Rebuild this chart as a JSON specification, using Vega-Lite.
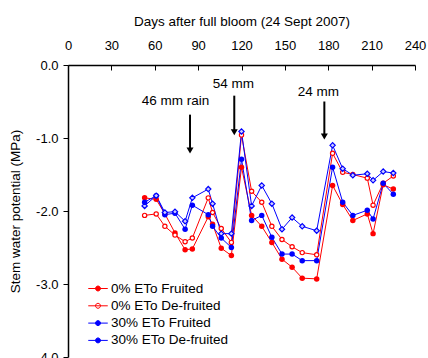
{
  "$schema": "https://vega.github.io/schema/vega-lite/v6.json",
  "width": 347,
  "height": 292,
  "autosize": {"type": "none"},
  "padding": {"left": 68, "top": 65, "right": 13, "bottom": 1},
  "background": "white",
  "config": {
    "view": {"stroke": null},
    "font": "Liberation Sans",
    "axis": {"grid": false, "domainColor": "#000", "tickColor": "#000", "labelColor": "#000", "titleColor": "#000", "labelFont": "Liberation Sans", "titleFont": "Liberation Sans", "labelFontSize": 13, "titleFontSize": 13.5, "titleFontWeight": "normal", "domainWidth": 1.5, "tickWidth": 1}
  },
  "datasets": {
    "obs": [
      {"s": "0% ETo Fruited", "d": 53, "v": -1.82}, {"s": "0% ETo Fruited", "d": 61, "v": -1.84}, {"s": "0% ETo Fruited", "d": 67, "v": -2.04}, {"s": "0% ETo Fruited", "d": 74, "v": -2.30}, {"s": "0% ETo Fruited", "d": 81, "v": -2.53}, {"s": "0% ETo Fruited", "d": 86, "v": -2.52}, {"s": "0% ETo Fruited", "d": 97, "v": -2.08}, {"s": "0% ETo Fruited", "d": 100, "v": -2.18}, {"s": "0% ETo Fruited", "d": 106, "v": -2.51}, {"s": "0% ETo Fruited", "d": 113, "v": -2.61}, {"s": "0% ETo Fruited", "d": 120, "v": -1.40}, {"s": "0% ETo Fruited", "d": 127, "v": -2.06}, {"s": "0% ETo Fruited", "d": 134, "v": -2.21}, {"s": "0% ETo Fruited", "d": 141, "v": -2.43}, {"s": "0% ETo Fruited", "d": 148, "v": -2.66}, {"s": "0% ETo Fruited", "d": 155, "v": -2.77}, {"s": "0% ETo Fruited", "d": 162, "v": -2.92}, {"s": "0% ETo Fruited", "d": 172, "v": -2.93}, {"s": "0% ETo Fruited", "d": 183, "v": -1.65}, {"s": "0% ETo Fruited", "d": 190, "v": -1.91}, {"s": "0% ETo Fruited", "d": 197, "v": -2.13}, {"s": "0% ETo Fruited", "d": 207, "v": -2.04}, {"s": "0% ETo Fruited", "d": 211, "v": -2.31}, {"s": "0% ETo Fruited", "d": 218, "v": -1.64}, {"s": "0% ETo Fruited", "d": 225, "v": -1.70},
      {"s": "0% ETo De-fruited", "d": 53, "v": -2.06}, {"s": "0% ETo De-fruited", "d": 61, "v": -2.04}, {"s": "0% ETo De-fruited", "d": 67, "v": -2.21}, {"s": "0% ETo De-fruited", "d": 74, "v": -2.33}, {"s": "0% ETo De-fruited", "d": 81, "v": -2.42}, {"s": "0% ETo De-fruited", "d": 86, "v": -2.37}, {"s": "0% ETo De-fruited", "d": 97, "v": -1.82}, {"s": "0% ETo De-fruited", "d": 100, "v": -2.02}, {"s": "0% ETo De-fruited", "d": 106, "v": -2.24}, {"s": "0% ETo De-fruited", "d": 113, "v": -2.43}, {"s": "0% ETo De-fruited", "d": 120, "v": -0.96}, {"s": "0% ETo De-fruited", "d": 127, "v": -1.73}, {"s": "0% ETo De-fruited", "d": 134, "v": -1.88}, {"s": "0% ETo De-fruited", "d": 141, "v": -2.21}, {"s": "0% ETo De-fruited", "d": 148, "v": -2.39}, {"s": "0% ETo De-fruited", "d": 155, "v": -2.49}, {"s": "0% ETo De-fruited", "d": 162, "v": -2.57}, {"s": "0% ETo De-fruited", "d": 172, "v": -2.60}, {"s": "0% ETo De-fruited", "d": 183, "v": -1.21}, {"s": "0% ETo De-fruited", "d": 190, "v": -1.47}, {"s": "0% ETo De-fruited", "d": 197, "v": -1.50}, {"s": "0% ETo De-fruited", "d": 207, "v": -1.55}, {"s": "0% ETo De-fruited", "d": 211, "v": -1.92}, {"s": "0% ETo De-fruited", "d": 218, "v": -1.62}, {"s": "0% ETo De-fruited", "d": 225, "v": -1.52},
      {"s": "30% ETo Fruited", "d": 53, "v": -1.88}, {"s": "30% ETo Fruited", "d": 61, "v": -1.79}, {"s": "30% ETo Fruited", "d": 67, "v": -2.05}, {"s": "30% ETo Fruited", "d": 74, "v": -2.03}, {"s": "30% ETo Fruited", "d": 81, "v": -2.25}, {"s": "30% ETo Fruited", "d": 86, "v": -1.92}, {"s": "30% ETo Fruited", "d": 97, "v": -2.05}, {"s": "30% ETo Fruited", "d": 100, "v": -2.21}, {"s": "30% ETo Fruited", "d": 106, "v": -2.37}, {"s": "30% ETo Fruited", "d": 113, "v": -2.50}, {"s": "30% ETo Fruited", "d": 120, "v": -1.29}, {"s": "30% ETo Fruited", "d": 127, "v": -2.13}, {"s": "30% ETo Fruited", "d": 134, "v": -2.06}, {"s": "30% ETo Fruited", "d": 141, "v": -2.36}, {"s": "30% ETo Fruited", "d": 148, "v": -2.59}, {"s": "30% ETo Fruited", "d": 155, "v": -2.59}, {"s": "30% ETo Fruited", "d": 162, "v": -2.68}, {"s": "30% ETo Fruited", "d": 172, "v": -2.68}, {"s": "30% ETo Fruited", "d": 183, "v": -1.40}, {"s": "30% ETo Fruited", "d": 190, "v": -1.88}, {"s": "30% ETo Fruited", "d": 197, "v": -2.06}, {"s": "30% ETo Fruited", "d": 207, "v": -1.99}, {"s": "30% ETo Fruited", "d": 211, "v": -2.11}, {"s": "30% ETo Fruited", "d": 218, "v": -1.62}, {"s": "30% ETo Fruited", "d": 225, "v": -1.77},
      {"s": "30% ETo De-fruited", "d": 53, "v": -1.93}, {"s": "30% ETo De-fruited", "d": 61, "v": -1.79}, {"s": "30% ETo De-fruited", "d": 67, "v": -2.02}, {"s": "30% ETo De-fruited", "d": 74, "v": -2.01}, {"s": "30% ETo De-fruited", "d": 81, "v": -2.14}, {"s": "30% ETo De-fruited", "d": 86, "v": -1.82}, {"s": "30% ETo De-fruited", "d": 97, "v": -1.70}, {"s": "30% ETo De-fruited", "d": 100, "v": -1.90}, {"s": "30% ETo De-fruited", "d": 106, "v": -2.31}, {"s": "30% ETo De-fruited", "d": 113, "v": -2.31}, {"s": "30% ETo De-fruited", "d": 120, "v": -0.91}, {"s": "30% ETo De-fruited", "d": 127, "v": -1.93}, {"s": "30% ETo De-fruited", "d": 134, "v": -1.65}, {"s": "30% ETo De-fruited", "d": 141, "v": -1.90}, {"s": "30% ETo De-fruited", "d": 148, "v": -2.25}, {"s": "30% ETo De-fruited", "d": 155, "v": -2.09}, {"s": "30% ETo De-fruited", "d": 162, "v": -2.21}, {"s": "30% ETo De-fruited", "d": 172, "v": -2.27}, {"s": "30% ETo De-fruited", "d": 183, "v": -1.10}, {"s": "30% ETo De-fruited", "d": 190, "v": -1.42}, {"s": "30% ETo De-fruited", "d": 197, "v": -1.51}, {"s": "30% ETo De-fruited", "d": 207, "v": -1.49}, {"s": "30% ETo De-fruited", "d": 211, "v": -1.58}, {"s": "30% ETo De-fruited", "d": 218, "v": -1.46}, {"s": "30% ETo De-fruited", "d": 225, "v": -1.48}
    ],
    "notes": [
      {"label": "46 mm rain", "d": 74.3, "v": -0.49},
      {"label": "54 mm", "d": 114.3, "v": -0.26},
      {"label": "24 mm", "d": 173.1, "v": -0.37}
    ],
    "arrows": [
      {"d": 84.4, "top": -0.68, "head": -1.17},
      {"d": 115.0, "top": -0.42, "head": -0.92},
      {"d": 177.3, "top": -0.50, "head": -0.98}
    ]
  },
  "layer": [
    {
      "mark": {"type": "rule", "color": "#000", "strokeWidth": 1.5},
      "encoding": {"y": {"datum": -4, "type": "quantitative", "scale": {"domain": [-4, 0], "nice": false}}}
    },
    {
      "data": {"name": "obs"},
      "mark": {"type": "line", "strokeWidth": 1},
      "encoding": {
        "x": {"field": "d", "type": "quantitative", "scale": {"domain": [0, 240], "nice": false},
          "axis": {"orient": "top", "title": "Days after full bloom (24 Sept 2007)", "values": [0, 30, 60, 90, 120, 150, 180, 210, 240], "tickSize": -5, "labelPadding": 18, "titlePadding": 11, "labelFlush": false}},
        "y": {"field": "v", "type": "quantitative", "scale": {"domain": [-4, 0], "nice": false},
          "axis": {"title": "Stem water potential (MPa)", "values": [0, -1, -2, -3, -4], "labelExpr": "replace(format(datum.value, '.1f'), '\u2212', '-')", "tickSize": 5, "labelPadding": 5, "titlePadding": 13, "labelFlush": false}},
        "color": {"field": "s", "type": "nominal",
          "scale": {"domain": ["0% ETo Fruited", "0% ETo De-fruited", "30% ETo Fruited", "30% ETo De-fruited"], "range": ["#ff0000", "#ff0000", "#0000ff", "#0000ff"]},
          "legend": {"title": null, "orient": "none", "legendX": 23, "legendY": 216.5, "symbolType": "M-1.5,0L1.5,0M-0.38,0A0.38,0.38 0 1,1 0.38,0A0.38,0.38 0 1,1 -0.38,0Z", "symbolSize": 169, "symbolStrokeWidth": 1, "labelFontSize": 13.5, "labelFont": "Liberation Sans", "labelColor": "#000", "rowPadding": 3.3, "labelOffset": 6, "padding": 0,
            "encode": {"symbols": {"update": {
              "fill": {"signal": "datum.value == '0% ETo De-fruited' ? 'white' : (indexof(datum.value, '30%') == 0 ? '#0000ff' : '#ff0000')"},
              "fillOpacity": {"value": 1},
              "opacity": {"value": 1}}}}}
        }
      }
    },
    {
      "data": {"name": "obs"},
      "transform": [{"filter": "datum.s == '0% ETo Fruited'"}],
      "mark": {"type": "point", "filled": true, "color": "#ff0000", "size": 30, "opacity": 1},
      "encoding": {"x": {"field": "d", "type": "quantitative"}, "y": {"field": "v", "type": "quantitative"}}
    },
    {
      "data": {"name": "obs"},
      "transform": [{"filter": "datum.s == '0% ETo De-fruited'"}],
      "mark": {"type": "point", "fill": "#ffffff", "stroke": "#ff0000", "strokeWidth": 1.2, "size": 18, "opacity": 1, "fillOpacity": 1},
      "encoding": {"x": {"field": "d", "type": "quantitative"}, "y": {"field": "v", "type": "quantitative"}}
    },
    {
      "data": {"name": "obs"},
      "transform": [{"filter": "datum.s == '30% ETo Fruited'"}],
      "mark": {"type": "point", "filled": true, "color": "#0000ff", "size": 30, "opacity": 1},
      "encoding": {"x": {"field": "d", "type": "quantitative"}, "y": {"field": "v", "type": "quantitative"}}
    },
    {
      "data": {"name": "obs"},
      "transform": [{"filter": "datum.s == '30% ETo De-fruited'"}],
      "mark": {"type": "point", "shape": "diamond", "fill": "#ccccff", "stroke": "#0000ff", "strokeWidth": 1.2, "size": 28, "opacity": 1, "fillOpacity": 1},
      "encoding": {"x": {"field": "d", "type": "quantitative"}, "y": {"field": "v", "type": "quantitative"}}
    },
    {
      "data": {"name": "arrows"},
      "mark": {"type": "rule", "color": "#000", "strokeWidth": 2},
      "encoding": {
        "x": {"field": "d", "type": "quantitative"},
        "y": {"field": "top", "type": "quantitative"},
        "y2": {"field": "head"}
      }
    },
    {
      "data": {"name": "arrows"},
      "mark": {"type": "point", "shape": "triangle-down", "filled": true, "color": "#000", "size": 49, "opacity": 1},
      "encoding": {
        "x": {"field": "d", "type": "quantitative"},
        "y": {"field": "head", "type": "quantitative"}
      }
    },
    {
      "data": {"name": "notes"},
      "mark": {"type": "text", "font": "Liberation Sans", "fontSize": 13.5, "color": "#000", "align": "center", "baseline": "middle"},
      "encoding": {
        "x": {"field": "d", "type": "quantitative"},
        "y": {"field": "v", "type": "quantitative"},
        "text": {"field": "label"}
      }
    }
  ]
}
